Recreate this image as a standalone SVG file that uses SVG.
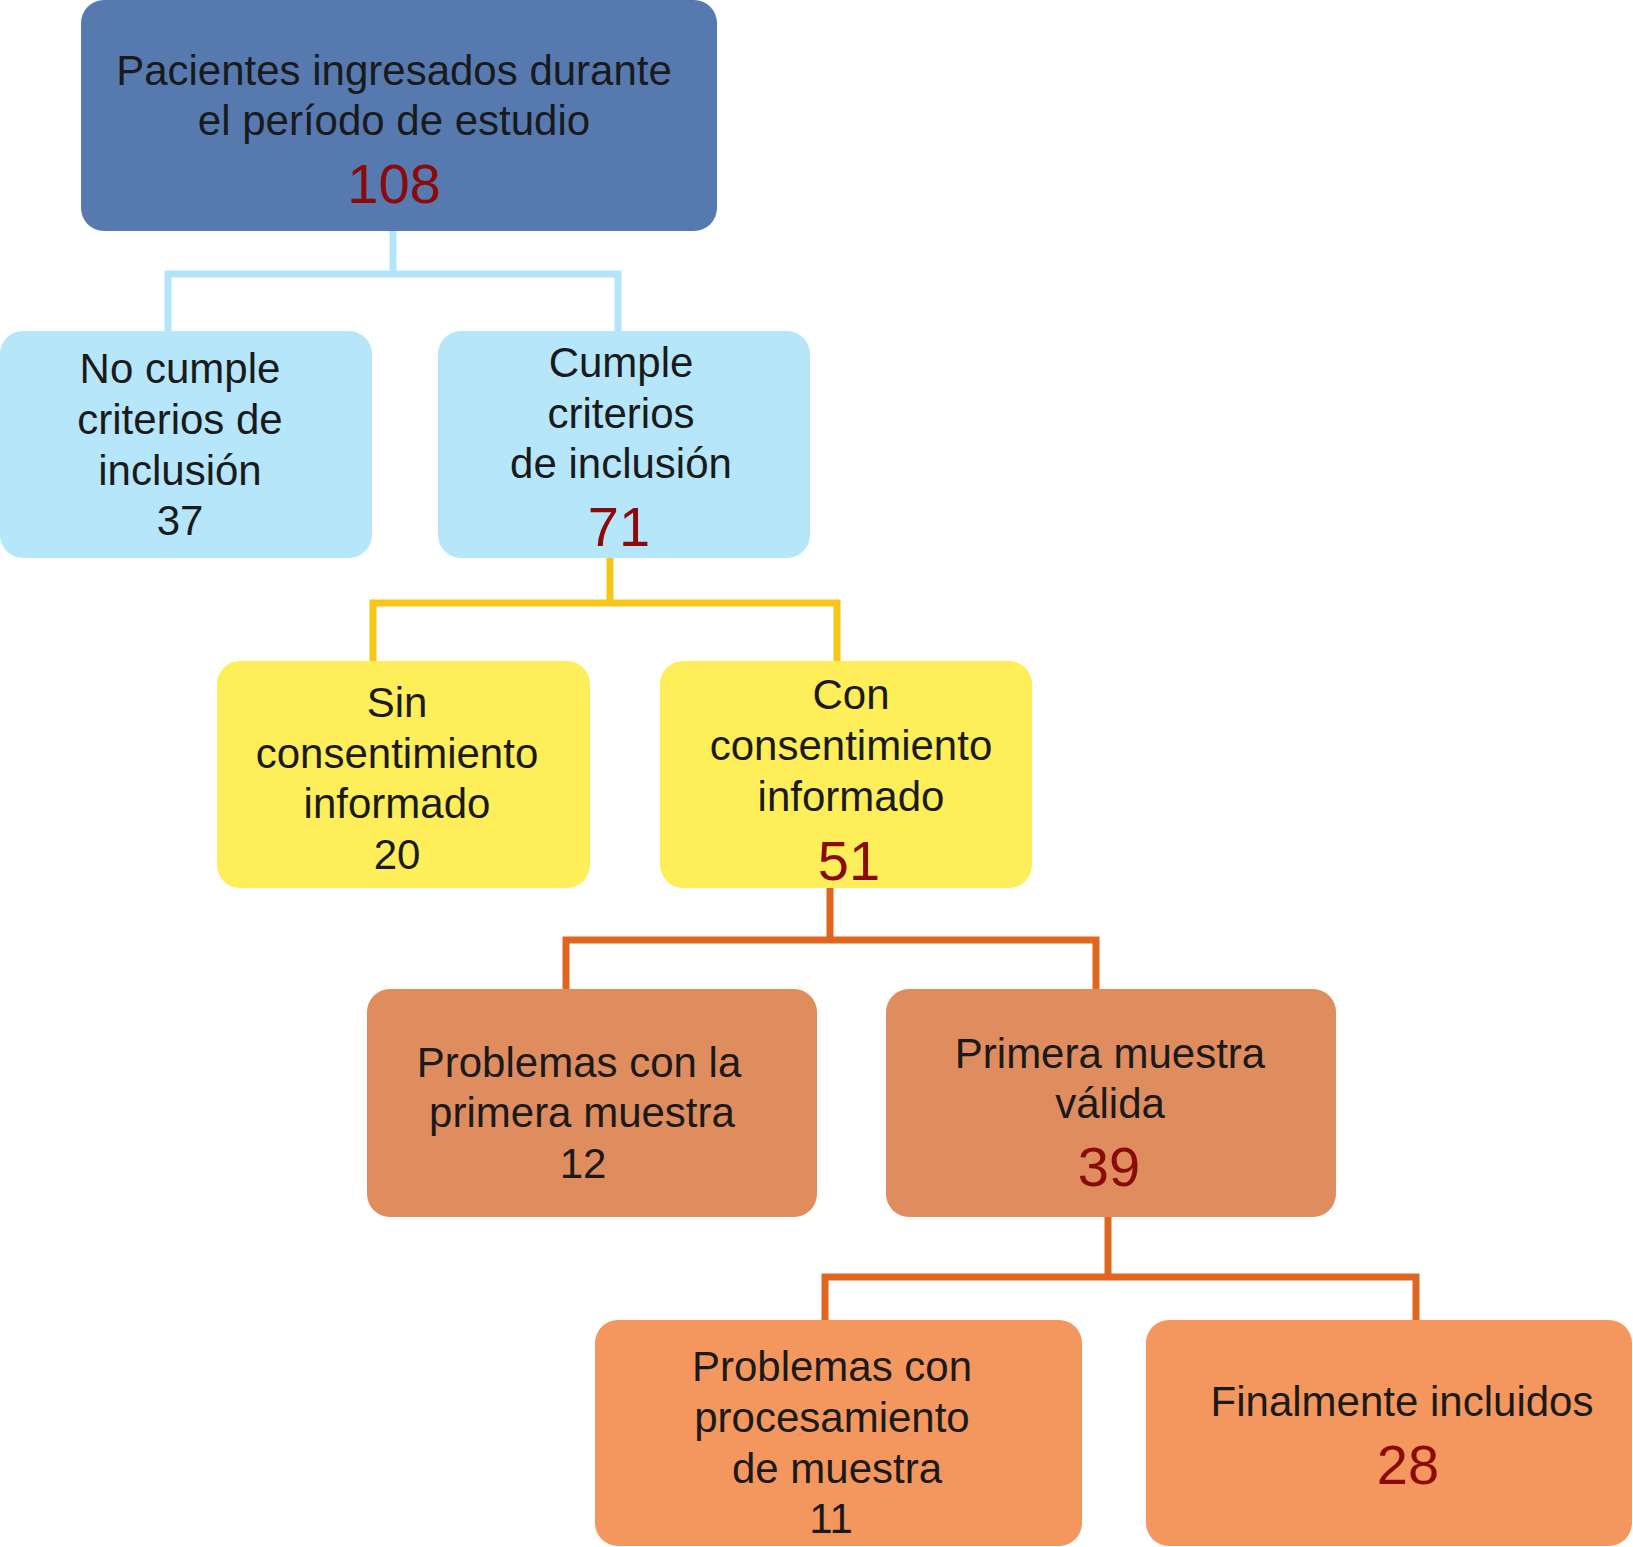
<svg xmlns="http://www.w3.org/2000/svg" width="1633" height="1547" viewBox="0 0 1633 1547">
<style>
text{font-family:"Liberation Sans",Arial,Helvetica,sans-serif;font-size:42px;fill:#1a1a1a;text-anchor:middle}
text.num{font-size:56px;fill:#8b0a0a}
.c1{stroke:#b3e5fa}.c2{stroke:#f5c518}.c3{stroke:#e0661f}
#connectors path{fill:none;stroke-width:7}
</style>
<rect width="1633" height="1547" fill="#ffffff"/>
<g id="connectors">
<path class="c1" d="M393 231V274M168 331V274H618V331"/>
<path class="c2" d="M610 558V603M373 661V603H837V661"/>
<path class="c3" d="M830 888V940M566 989V940H1096V989"/>
<path class="c3" d="M1108 1217V1277M825 1320V1277H1416V1320"/>
</g>
<g id="n108">
<rect x="81" y="0" width="636" height="231" rx="23" fill="#5679b0"/>
<text x="394" y="85">Pacientes ingresados durante</text>
<text x="394" y="135">el período de estudio</text>
<text class="num" x="394" y="203">108</text>
</g>
<g id="n37">
<rect x="0" y="331" width="372" height="227" rx="23" fill="#b5e6fa"/>
<text x="180" y="383">No cumple</text>
<text x="180" y="434">criterios de</text>
<text x="180" y="485">inclusión</text>
<text x="180" y="535">37</text>
</g>
<g id="n71">
<rect x="438" y="331" width="372" height="227" rx="23" fill="#b5e6fa"/>
<text x="621" y="377">Cumple</text>
<text x="621" y="428">criterios</text>
<text x="621" y="478">de inclusión</text>
<text class="num" x="619" y="546">71</text>
</g>
<g id="n20">
<rect x="217" y="661" width="373" height="227" rx="23" fill="#fdee5a"/>
<text x="397" y="717">Sin</text>
<text x="397" y="768">consentimiento</text>
<text x="397" y="818">informado</text>
<text x="397" y="869">20</text>
</g>
<g id="n51">
<rect x="660" y="661" width="372" height="227" rx="23" fill="#fdee5a"/>
<text x="851" y="709">Con</text>
<text x="851" y="760">consentimiento</text>
<text x="851" y="811">informado</text>
<text class="num" x="849" y="880">51</text>
</g>
<g id="n12">
<rect x="367" y="989" width="450" height="228" rx="23" fill="#df8c5e"/>
<text x="579" y="1077">Problemas con la</text>
<text x="582" y="1127">primera muestra</text>
<text x="583" y="1178">12</text>
</g>
<g id="n39">
<rect x="886" y="989" width="450" height="228" rx="23" fill="#df8c5e"/>
<text x="1110" y="1068">Primera muestra</text>
<text x="1110" y="1118">válida</text>
<text class="num" x="1109" y="1186">39</text>
</g>
<g id="n11">
<rect x="595" y="1320" width="487" height="226" rx="23" fill="#f4975e"/>
<text x="832" y="1381">Problemas con</text>
<text x="832" y="1432">procesamiento</text>
<text x="837" y="1483">de muestra</text>
<text x="831" y="1533">11</text>
</g>
<g id="n28">
<rect x="1146" y="1320" width="486" height="226" rx="23" fill="#f4975e"/>
<text x="1402" y="1416">Finalmente incluidos</text>
<text class="num" x="1408" y="1484">28</text>
</g>
</svg>
